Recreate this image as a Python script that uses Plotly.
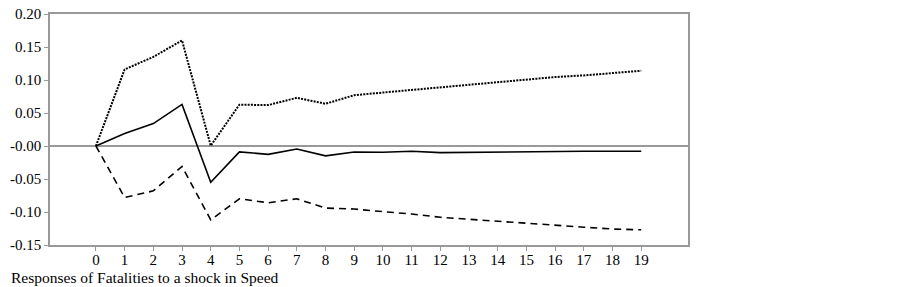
import plotly.graph_objects as go

periods = list(range(20))
response = [0.0, 0.019, 0.034, 0.063, -0.055, -0.009, -0.0126, -0.0045, -0.015, -0.009,
            -0.0095, -0.008, -0.010, -0.0095, -0.0085, -0.0085, -0.0085, -0.008, -0.008, -0.008]
upper = [0.0, 0.116, 0.135, 0.160, 0.0005, 0.0626, 0.062, 0.073, 0.064, 0.077,
         0.081, 0.085, 0.089, 0.093, 0.097, 0.101, 0.1045, 0.107, 0.110, 0.114]
lower = [0.0, -0.078, -0.068, -0.031, -0.112, -0.080, -0.086, -0.080, -0.094, -0.0955,
         -0.0995, -0.103, -0.108, -0.111, -0.1147, -0.118, -0.121, -0.123, -0.1258, -0.127]
ytick_vals = [0.20, 0.15, 0.10, 0.05, 0.0, -0.05, -0.10, -0.15]
ytick_text = ["0.20", "0.15", "0.10", "0.05", "-0.00", "-0.05", "-0.10", "-0.15"]
caption = "Responses of Fatalities to a shock in Speed"

fig = go.Figure()
fig.add_trace(go.Scatter(x=periods, y=upper, mode="lines",
                         line=dict(color="black", width=2, dash="2px,1.2px")))
fig.add_trace(go.Scatter(x=periods, y=lower, mode="lines",
                         line=dict(color="black", width=1.6, dash="7px,5px")))
fig.add_trace(go.Scatter(x=periods, y=response, mode="lines",
                         line=dict(color="black", width=1.6)))

axis_font = dict(family="Liberation Serif", size=15, color="black")
fig.update_layout(
    width=903, height=287,
    margin=dict(l=50, r=215, t=14, b=42, autoexpand=False),
    paper_bgcolor="white", plot_bgcolor="white",
    showlegend=False,
    xaxis=dict(range=[-1.6, 20.63], tickvals=periods, ticktext=[str(p) for p in periods],
               showgrid=False, zeroline=False, showline=True, mirror=True,
               linecolor="#999999", linewidth=1.5, ticks="outside", ticklen=4,
               tickcolor="#999999", tickfont=axis_font, automargin=False,
               ticklabelstandoff=-4),
    yaxis=dict(range=[-0.15, 0.20], tickvals=ytick_vals, ticktext=ytick_text,
               showgrid=False, zeroline=True, zerolinecolor="#999999", zerolinewidth=1.5,
               showline=True, mirror=True, linecolor="#999999", linewidth=1.5,
               ticks="outside", ticklen=4, tickcolor="#999999", tickfont=axis_font,
               automargin=False),
    annotations=[dict(text=caption, xref="paper", yref="paper", x=-41/638, y=-0.095,
                      xanchor="left", yanchor="top", showarrow=False,
                      font=dict(family="Liberation Serif", size=15.5, color="black"))],
)
fig.write_html("out.html", config={"displayModeBar": False},
               post_script="document.body.style.margin='0';document.body.style.overflow='hidden';")
